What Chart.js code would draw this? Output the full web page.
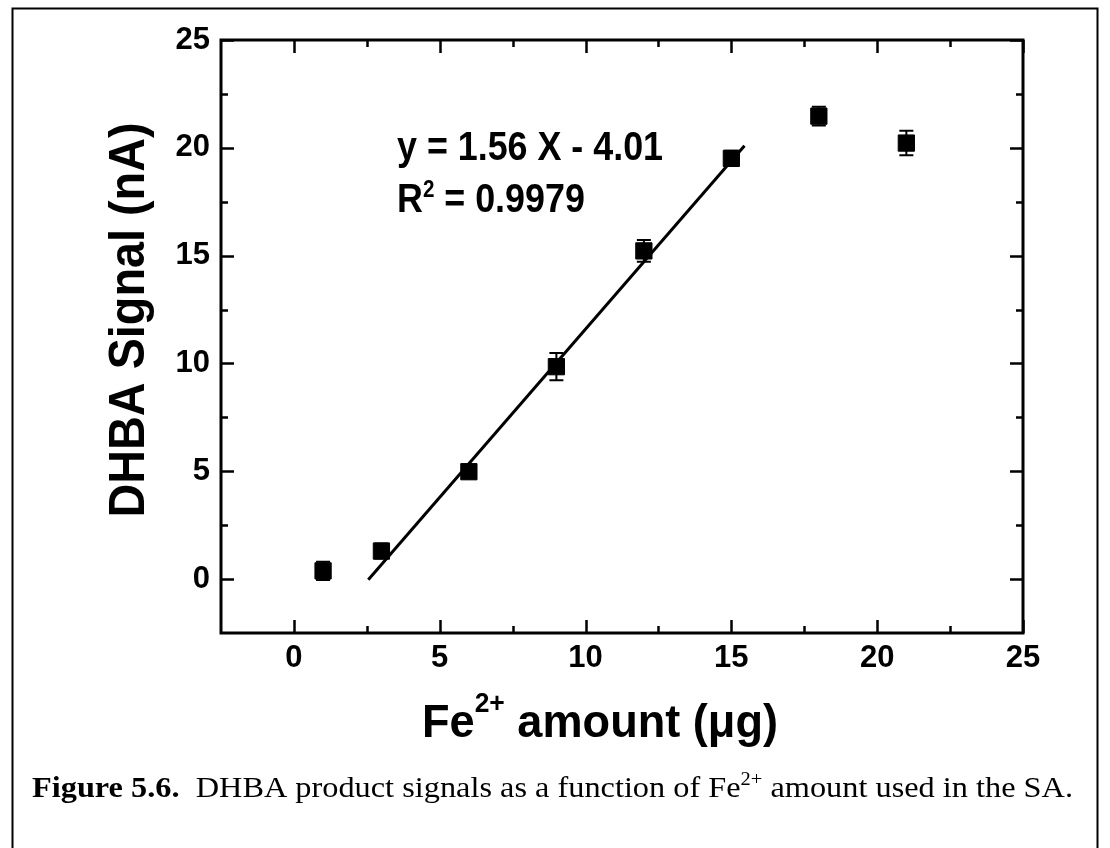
<!DOCTYPE html>
<html>
<head>
<meta charset="utf-8">
<script src="https://cdn.jsdelivr.net/npm/chart.js@4"></script>
<style>
  html, body { margin: 0; padding: 0; background: #fff; }
  canvas { display: block; }
</style>
</head>
<body>
<canvas id="c" width="1110" height="848"></canvas>
<script>
// Fe2+ amount (µg) and DHBA signal (nA) with error bar half-widths
const feAmount   = [1, 3, 6, 9, 12, 15, 18, 21];
const dhbaSignal = [0.38, 1.3, 4.98, 9.85, 15.22, 19.51, 21.47, 20.22];
const signalErr  = [0.42, 0.35, 0.3, 0.63, 0.5, 0.35, 0.43, 0.57];

// linear fit shown in the annotation: y = 1.56 X - 4.01
const fitSlope = 1.56;
const fitIntercept = -4.01;
const fitRange = [2.55, 15.45];

const xTickValues = [0, 5, 10, 15, 20, 25];
const yTickValues = [0, 5, 10, 15, 20, 25];
const xMinorValues = [2.5, 7.5, 12.5, 17.5, 22.5];
const yMinorValues = [2.5, 7.5, 12.5, 17.5, 22.5];

const SANS = '"Liberation Sans", Arial, sans-serif';
const SERIF = '"Liberation Serif", "Times New Roman", serif';

const points = feAmount.map((x, i) => ({ x: x, y: dhbaSignal[i] }));
const fitPoints = fitRange.map(x => ({ x: x, y: fitSlope * x + fitIntercept }));

// draw a run of text pieces (for superscripts), optionally squeezed to a width
function drawParts(ctx, parts, x, y, opts) {
  opts = opts || {};
  const widths = parts.map(p => { ctx.font = p.font; return ctx.measureText(p.text).width; });
  const total = widths.reduce((a, b) => a + b, 0);
  const sx = opts.width ? opts.width / total : (opts.sx || 1);
  ctx.save();
  ctx.translate(x, y);
  if (opts.rotate) ctx.rotate(opts.rotate);
  ctx.scale(sx, 1);
  ctx.fillStyle = '#000';
  ctx.textBaseline = 'alphabetic';
  ctx.textAlign = 'left';
  let cx = opts.align === 'center' ? -total / 2 : 0;
  parts.forEach((p, i) => {
    ctx.font = p.font;
    ctx.fillText(p.text, cx, (opts.baseShift || 0) - (p.rise || 0));
    cx += widths[i];
  });
  ctx.restore();
  return sx;
}

const errorBars = {
  id: 'errorBars',
  afterDatasetsDraw(chart) {
    const ctx = chart.ctx;
    const xs = chart.scales.x, ys = chart.scales.y;
    ctx.save();
    ctx.strokeStyle = '#000';
    ctx.lineWidth = 2;
    feAmount.forEach((fx, i) => {
      const px = xs.getPixelForValue(fx);
      const top = ys.getPixelForValue(dhbaSignal[i] + signalErr[i]);
      const bot = ys.getPixelForValue(dhbaSignal[i] - signalErr[i]);
      ctx.beginPath();
      ctx.moveTo(px, top); ctx.lineTo(px, bot);
      ctx.moveTo(px - 7, top); ctx.lineTo(px + 7, top);
      ctx.moveTo(px - 7, bot); ctx.lineTo(px + 7, bot);
      ctx.stroke();
    });
    ctx.restore();
  }
};

const frameAndText = {
  id: 'frameAndText',
  afterDraw(chart) {
    const ctx = chart.ctx;
    const xs = chart.scales.x, ys = chart.scales.y;
    const a = chart.chartArea;
    ctx.save();
    ctx.strokeStyle = '#000';

    // axes box
    ctx.lineWidth = 3;
    ctx.strokeRect(a.left, a.top, a.right - a.left, a.bottom - a.top);

    // inward ticks on all four sides
    ctx.lineWidth = 2.5;
    ctx.beginPath();
    const tickX = (vals, len) => vals.forEach(v => {
      const p = Math.round(xs.getPixelForValue(v)) + 0.5;
      ctx.moveTo(p, a.bottom); ctx.lineTo(p, a.bottom - len);
      ctx.moveTo(p, a.top); ctx.lineTo(p, a.top + len);
    });
    const tickY = (vals, len) => vals.forEach(v => {
      const p = Math.round(ys.getPixelForValue(v)) + 0.5;
      ctx.moveTo(a.left, p); ctx.lineTo(a.left + len, p);
      ctx.moveTo(a.right, p); ctx.lineTo(a.right - len, p);
    });
    tickX(xTickValues, 13); tickX(xMinorValues, 7);
    tickY(yTickValues, 13); tickY(yMinorValues, 7);
    ctx.stroke();

    // outer figure frame
    ctx.lineWidth = 2;
    ctx.beginPath();
    ctx.moveTo(12.5, 848); ctx.lineTo(12.5, 8.5); ctx.lineTo(1097.5, 8.5); ctx.lineTo(1097.5, 848);
    ctx.stroke();
    ctx.restore();

    // fit equation
    const f1 = 'bold 40px ' + SANS, f1s = 'bold 23px ' + SANS;
    const sx = drawParts(ctx, [{ text: 'y = 1.56 X - 4.01', font: f1 }], 397, 160, { width: 266 });
    drawParts(ctx, [
      { text: 'R', font: f1 },
      { text: '2', font: f1s, rise: 15 },
      { text: ' = 0.9979', font: f1 }
    ], 397, 212, { sx: sx });

    // axis titles
    drawParts(ctx, [
      { text: 'Fe', font: 'bold 46px ' + SANS },
      { text: '2+', font: 'bold 27px ' + SANS, rise: 25 },
      { text: ' amount (\u03bcg)', font: 'bold 46px ' + SANS }
    ], 600, 737, { align: 'center', width: 356 });

    drawParts(ctx, [{ text: 'DHBA Signal (nA)', font: 'bold 50px ' + SANS }],
      126, 320, { align: 'center', width: 395, rotate: -Math.PI / 2, baseShift: 18 });

    // caption
    drawParts(ctx, [
      { text: 'Figure 5.6.', font: 'bold 30px ' + SERIF },
      { text: '  DHBA product signals as a function of Fe', font: '30px ' + SERIF },
      { text: '2+', font: '19px ' + SERIF, rise: 12 },
      { text: ' amount used in the SA.', font: '30px ' + SERIF }
    ], 32, 797, { width: 1041 });
  }
};

const tickFont = { family: SANS, weight: 'bold', size: 31 };

new Chart(document.getElementById('c'), {
  type: 'scatter',
  data: {
    datasets: [
      {
        type: 'line',
        data: fitPoints,
        borderColor: '#000',
        borderWidth: 3,
        pointRadius: 0,
        fill: false,
        order: 2
      },
      {
        data: points,
        pointStyle: 'rect',
        pointRadius: 11.5,
        backgroundColor: '#000',
        borderColor: '#000',
        borderWidth: 1,
        order: 1
      }
    ]
  },
  options: {
    responsive: false,
    animation: false,
    devicePixelRatio: 1,
    layout: { padding: { left: 0, top: 40, right: 87, bottom: 0 } },
    plugins: { legend: { display: false }, tooltip: { enabled: false } },
    scales: {
      x: {
        type: 'linear', min: -2.5, max: 25,
        afterBuildTicks: s => { s.ticks = xTickValues.map(v => ({ value: v })); },
        afterFit: s => { s.height = 215; },
        grid: { display: false, drawTicks: false },
        border: { display: false },
        ticks: { font: tickFont, color: '#000', padding: 7, maxRotation: 0, autoSkip: false }
      },
      y: {
        type: 'linear', min: -2.5, max: 25,
        afterBuildTicks: s => { s.ticks = yTickValues.map(v => ({ value: v })); },
        afterFit: s => { s.width = 221; },
        grid: { display: false, drawTicks: false },
        border: { display: false },
        ticks: { font: tickFont, color: '#000', padding: 11, autoSkip: false }
      }
    }
  },
  plugins: [errorBars, frameAndText]
});
</script>
</body>
</html>
